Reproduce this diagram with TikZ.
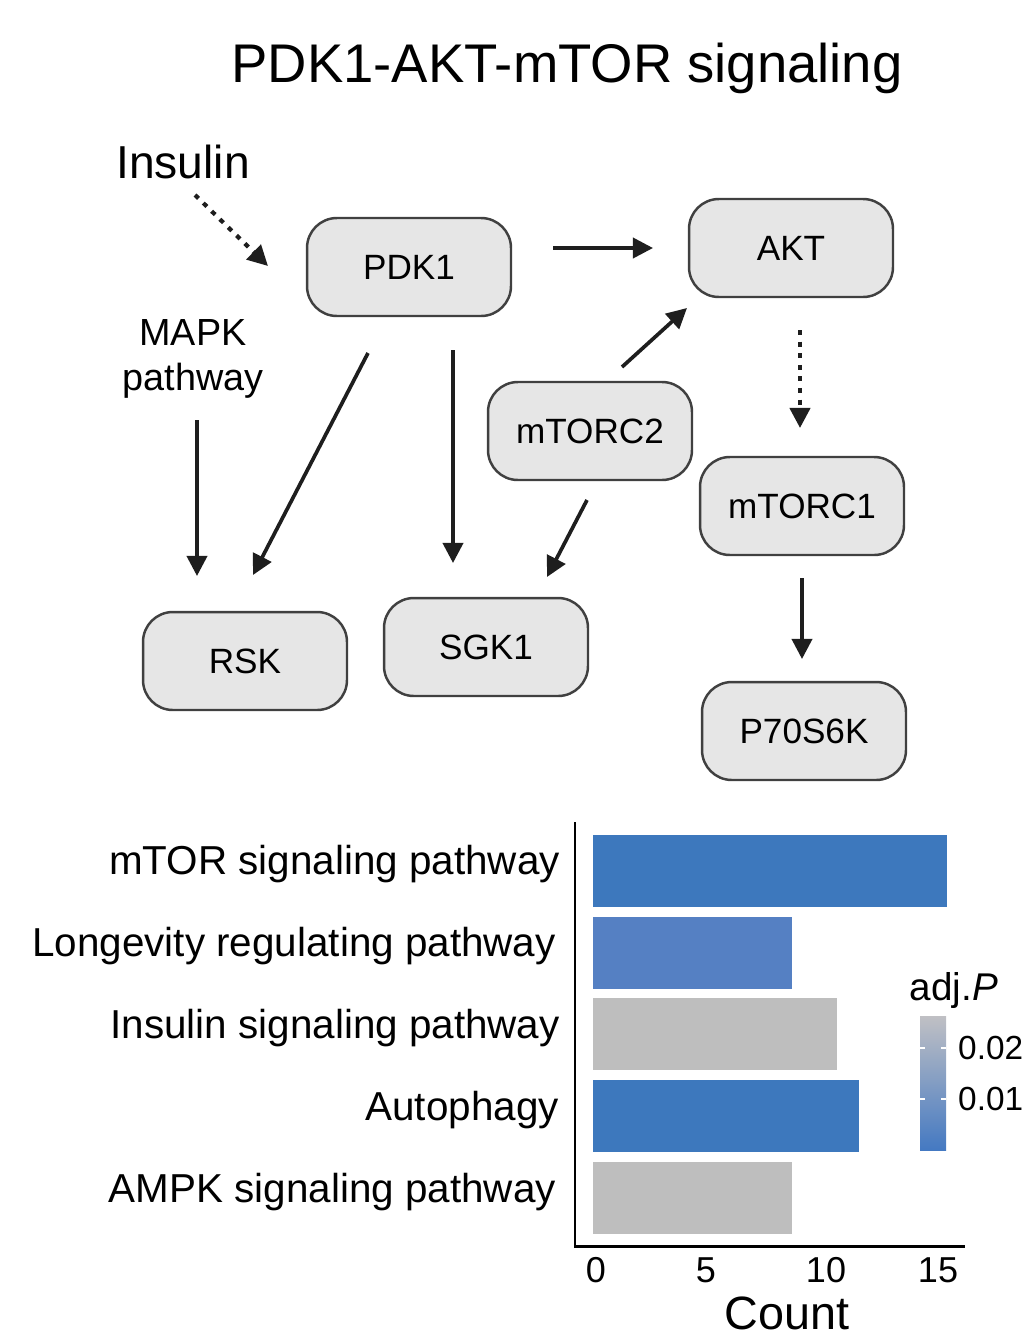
\documentclass[tikz,border=0pt]{standalone}
\usepackage{fontspec}
\setmainfont{Liberation Sans}
\usetikzlibrary{arrows.meta,calc}

\definecolor{boxfill}{HTML}{E6E6E6}
\definecolor{boxline}{HTML}{404040}
\definecolor{arrink}{HTML}{1E1E1E}
\definecolor{barblue}{HTML}{3D78BD}
\definecolor{barmid}{HTML}{5580C3}
\definecolor{bargrey}{HTML}{BEBEBE}
\definecolor{keygrey}{HTML}{C0C0C4}
\definecolor{keyblue}{HTML}{4479C2}

\newcommand{\fs}[1]{\fontsize{#1}{1.2\dimexpr #1pt\relax}\selectfont}

\tikzset{
  prot/.style={draw=boxline,line width=1.4pt,fill=boxfill,rounded corners=17pt,
    minimum width=4.08cm,minimum height=1.96cm,font=\fs{20}},
  arr/.style={draw=arrink,line width=2.1pt,-{Triangle[length=11.5pt,width=11.5pt]}},
  dotarr/.style={arr,line width=2.4pt,dash pattern=on 2.8pt off 3.8pt},
  term/.style={anchor=east,font=\fs{23}},
  tick/.style={font=\fs{20.5}},
}

\begin{document}
\begin{tikzpicture}[x=0.02cm,y=-0.02cm]
\useasboundingbox (0,0) rectangle (1024,1343);

\node (title) at (567,68) {\fs{31}PDK1-AKT-mTOR signaling};

\node (insulin) at (183,162) {\fs{26.3}Insulin};
\node[align=center,font=\fs{21.5}] (mapk) at (193,359) {MAPK\\pathway};

\node[prot] (pdk1) at (409,267) {PDK1};
\node[prot] (akt) at (791,248) {AKT};
\node[prot] (mtorc2) at (590,431) {mTORC2};
\node[prot] (mtorc1) at (802,506) {mTORC1};
\node[prot] (rsk) at (245,661) {RSK};
\node[prot] (sgk1) at (486,647) {SGK1};
\node[prot] (p70) at (804,731) {P70S6K};

\draw[dotarr] ($(insulin)+(12,33)$) -- ($(pdk1)+(-141,-1)$);
\draw[arr] ($(pdk1)+(144,-19)$) -- ($(akt)+(-138,0)$);
\draw[arr] ($(mtorc2)+(32,-64)$) -- ($(akt)+(-104,60)$);
\draw[dotarr] ($(akt)+(9,82)$) -- ($(mtorc1)+(-2,-78)$);
\draw[arr] ($(mapk)+(4,61)$) -- ($(rsk)+(-48,-85)$);
\draw[arr] ($(pdk1)+(-41,86)$) -- ($(rsk)+(8,-86)$);
\draw[arr] ($(pdk1)+(44,83)$) -- ($(sgk1)+(-33,-84)$);
\draw[arr] ($(mtorc2)+(-3,69)$) -- ($(sgk1)+(61,-70)$);
\draw[arr] ($(mtorc1)+(0,72)$) -- ($(p70)+(-2,-72)$);

\fill[barblue] (593,835) rectangle (947,907);
\fill[barmid] (593,917) rectangle (792,989);
\fill[bargrey] (593,998) rectangle (837,1070);
\fill[barblue] (593,1080) rectangle (859,1152);
\fill[bargrey] (593,1162) rectangle (792,1234);

\draw[line width=1.7pt] (575,822) -- (575,1246) -- (965,1246);

\node[term] (l1) at (566,864) {mTOR signaling pathway};
\node[term] (l2) at (562,946) {Longevity regulating pathway};
\node[term] (l3) at (566,1028) {Insulin signaling pathway};
\node[term] (l4) at (565,1110) {Autophagy};
\node[term] (l5) at (562,1192) {AMPK signaling pathway};

\node[tick] (t0) at (596,1270) {0};
\node[tick] (t5) at (706,1270) {5};
\node[tick] (t10) at (826,1270) {10};
\node[tick] (t15) at (938,1270) {15};
\node[font=\fs{26.6}] (count) at (787,1313) {Count};

\node[font=\fs{22}] (adjp) at (954,990) {adj.\textit{P}};
\shade[top color=keygrey,bottom color=keyblue] (920,1016) rectangle (946,1150);
\foreach \y in {1048,1099}{
  \draw[white,line width=1pt] (920,\y) -- (925,\y) (941,\y) -- (946,\y);
}
\node[anchor=west,font=\fs{19}] (k2) at (952,1048) {0.02};
\node[anchor=west,font=\fs{19}] (k1) at (952,1099) {0.01};

\end{tikzpicture}
\end{document}
